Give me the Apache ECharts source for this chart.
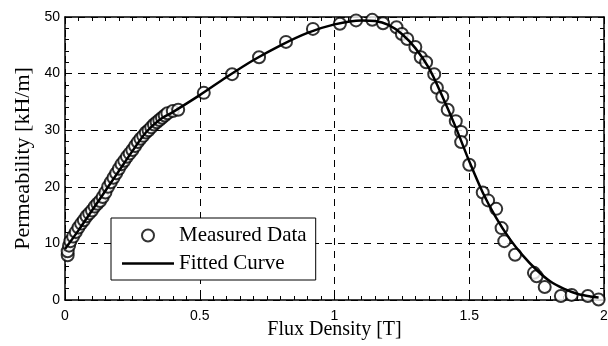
<!DOCTYPE html>
<html>
<head>
<meta charset="utf-8">
<script src="https://cdn.jsdelivr.net/npm/echarts@6/dist/echarts.min.js"></script>
<style>
  html, body { margin: 0; padding: 0; background: #fff; }
  #chart { width: 608px; height: 346px; }
</style>
</head>
<body>
<div id="chart"></div>
<script>
// measured points [B (T), mu (kH/m)]
var measuredB = [0.01, 0.01, 0.015, 0.02, 0.03, 0.04, 0.05, 0.06, 0.07, 0.08, 0.09, 0.10,
  0.11, 0.12, 0.13, 0.14, 0.15, 0.16, 0.17, 0.18, 0.19, 0.20, 0.21, 0.22, 0.23, 0.24,
  0.25, 0.26, 0.27, 0.28, 0.29, 0.30, 0.31, 0.32, 0.33, 0.34, 0.35, 0.36, 0.37, 0.38,
  0.40, 0.42, 0.515, 0.62, 0.72, 0.82, 0.92, 1.02, 1.08, 1.14, 1.18, 1.23, 1.25, 1.27,
  1.30, 1.32, 1.34, 1.37, 1.38, 1.40, 1.42, 1.45, 1.47, 1.47, 1.50, 1.55, 1.57, 1.60,
  1.62, 1.63, 1.67, 1.74, 1.75, 1.78, 1.84, 1.88, 1.94, 1.98];
var measuredMu = [7.9, 8.6, 9.6, 10.4, 11.2, 12.0, 12.8, 13.5, 14.1, 14.8, 15.3, 15.8,
  16.5, 17.0, 17.5, 18.2, 19.0, 20.0, 20.8, 21.6, 22.4, 23.2, 24.0, 24.6, 25.3, 25.9,
  26.5, 27.2, 27.9, 28.5, 29.0, 29.6, 30.0, 30.5, 31.0, 31.4, 31.8, 32.2, 32.6, 33.0,
  33.4, 33.6, 36.6, 39.9, 42.9, 45.6, 47.9, 48.8, 49.4, 49.5, 48.9, 48.2, 47.0, 46.1,
  44.7, 42.9, 42.0, 39.9, 37.5, 35.9, 33.6, 31.6, 29.7, 27.9, 23.9, 19.0, 17.6, 16.1,
  12.7, 10.4, 8.0, 4.8, 4.2, 2.3, 0.7, 0.9, 0.7, 0.1];

// fitted curve
var fitB = [0, 0.05, 0.10, 0.16, 0.20, 0.25, 0.30, 0.35, 0.40, 0.50, 0.60, 0.70, 0.80,
  0.90, 1.00, 1.10, 1.15, 1.20, 1.25, 1.30, 1.35, 1.40, 1.45, 1.50, 1.55, 1.60, 1.65,
  1.70, 1.75, 1.80, 1.85, 1.90, 1.95, 1.98];
var fitMu = [9.0, 12.3, 15.8, 20.0, 22.8, 26.3, 29.6, 31.8, 33.2, 36.2, 39.4, 42.4, 45.0,
  47.2, 48.7, 49.4, 49.3, 48.6, 47.0, 44.5, 41.0, 36.0, 30.5, 24.5, 19.0, 14.5, 10.8,
  7.8, 5.3, 3.3, 2.0, 1.1, 0.6, 0.45];

var xTicks = ['0', '0.5', '1', '1.5', '2'];

var measured = measuredB.map(function (b, i) { return [b, measuredMu[i]]; });
var fitted = fitB.map(function (b, i) { return [b, fitMu[i]]; });

var chart = echarts.init(document.getElementById('chart'));

var sans = 'Liberation Sans';
var serif = 'Liberation Serif';

function xAx(pos, show) {
  var ax = {
    type: 'value', position: pos, min: 0, max: 2, interval: 0.5,
    axisLine: { show: true, onZero: false, lineStyle: { color: '#000', width: 1.5 } },
    axisTick: { show: true, inside: true, length: 6, lineStyle: { color: '#000', width: 1 } },
    minorTick: { show: true, splitNumber: 10, length: 4, lineStyle: { color: '#000', width: 1 } },
    axisLabel: {
      show: show, margin: 9, fontFamily: sans, fontSize: 14, color: '#000',
      formatter: function (v) { return xTicks[Math.round(v * 2)]; }
    },
    splitLine: { show: show, lineStyle: { color: '#000', type: [7, 6], width: 1 } }
  };
  if (show) {
    ax.name = 'Flux Density [T]';
    ax.nameLocation = 'middle';
    ax.nameGap = 20;
    ax.nameMoveOverlap = false;
    ax.nameTextStyle = { fontFamily: serif, fontSize: 20, color: '#000' };
  }
  return ax;
}
function yAx(pos, show) {
  var ax = {
    type: 'value', position: pos, min: 0, max: 50, interval: 10,
    axisLine: { show: true, onZero: false, lineStyle: { color: '#000', width: 1.5 } },
    axisTick: { show: true, inside: true, length: 6, lineStyle: { color: '#000', width: 1 } },
    minorTick: { show: true, splitNumber: 5, length: 4, lineStyle: { color: '#000', width: 1 } },
    axisLabel: { show: show, margin: 5, fontFamily: sans, fontSize: 14, color: '#000' },
    splitLine: { show: show, lineStyle: { color: '#000', type: [7, 6], width: 1 } }
  };
  if (show) {
    ax.name = 'Permeability [kH/m]';
    ax.nameLocation = 'middle';
    ax.nameGap = 31;
    ax.nameMoveOverlap = false;
    ax.nameTextStyle = { fontFamily: serif, fontSize: 22, color: '#000' };
  }
  return ax;
}

var option = {
  backgroundColor: '#fff',
  animation: false,
  grid: { left: 65, right: 4, top: 17, bottom: 46, outerBoundsMode: 'none' },
  xAxis: [xAx('bottom', true), xAx('top', false)],
  yAxis: [yAx('left', true), yAx('right', false)],
  legend: {
    orient: 'vertical',
    left: 111, top: 218,
    padding: [7, 9, 6, 11],
    itemGap: 7,
    itemWidth: 52, itemHeight: 12,
    symbolKeepAspect: true,
    backgroundColor: '#fff',
    borderColor: '#000', borderWidth: 1, borderRadius: 0,
    textStyle: { fontFamily: serif, fontSize: 21, color: '#000' },
    data: [
      { name: 'Measured Data' },
      { name: 'Fitted Curve', icon: 'path://M0,0H52V2.5H0Z', itemStyle: { color: '#000' } }
    ]
  },
  series: [
    {
      name: 'Measured Data',
      type: 'scatter',
      data: measured,
      symbol: 'emptyCircle',
      symbolSize: 12,
      itemStyle: { color: '#000', borderColor: '#000', borderWidth: 0.9 },
      z: 3
    },
    {
      name: 'Fitted Curve',
      type: 'line',
      data: fitted,
      smooth: 0.3,
      showSymbol: false,
      symbol: 'none',
      lineStyle: { color: '#000', width: 2.5 },
      itemStyle: { color: '#000' },
      z: 4
    }
  ]
};

chart.setOption(option);
</script>
</body>
</html>
